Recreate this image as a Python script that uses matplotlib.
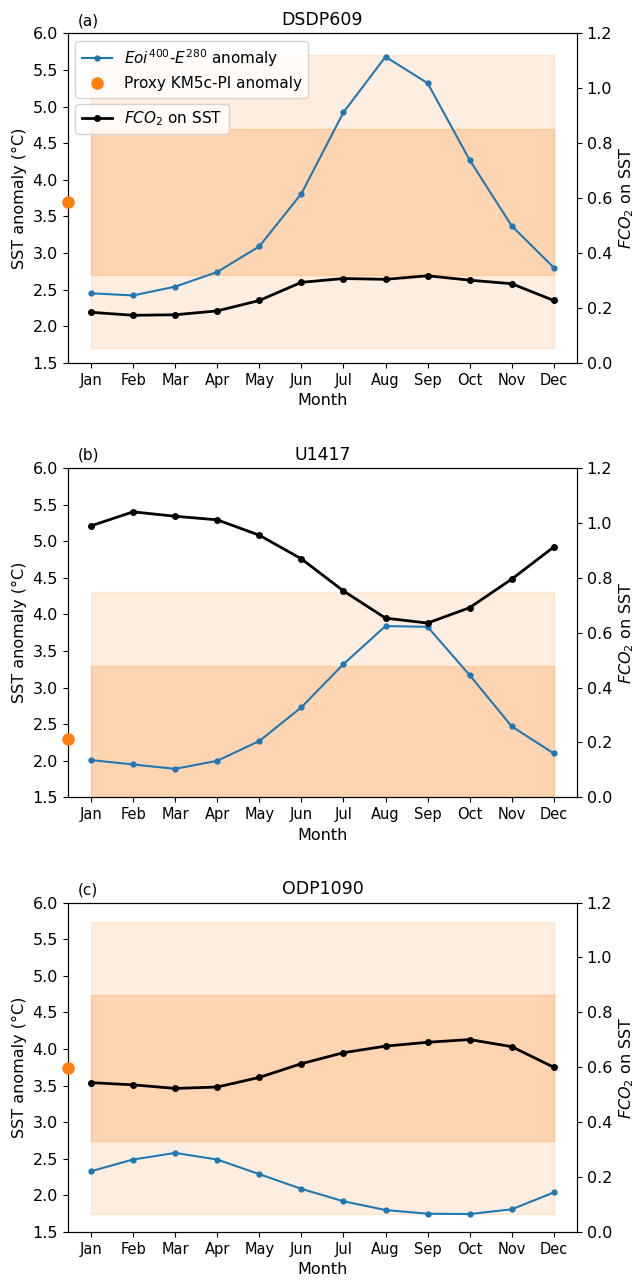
import matplotlib
matplotlib.use("Agg")
import matplotlib.pyplot as plt
import numpy as np

months = ["Jan", "Feb", "Mar", "Apr", "May", "Jun", "Jul", "Aug", "Sep", "Oct", "Nov", "Dec"]
sites = ["DSDP609", "U1417", "ODP1090"]
panel_tags = ["(a)", "(b)", "(c)"]

# model SST anomaly (Eoi400 - E280), degC
sst_dsdp609 = [2.45, 2.42, 2.54, 2.74, 3.09, 3.81, 4.92, 5.68, 5.32, 4.27, 3.37, 2.80]
sst_u1417 = [2.01, 1.95, 1.89, 2.00, 2.27, 2.73, 3.32, 3.84, 3.83, 3.17, 2.47, 2.10]
sst_odp1090 = [2.33, 2.49, 2.58, 2.49, 2.29, 2.09, 1.92, 1.80, 1.75, 1.745, 1.81, 2.04]

# CO2 forcing contribution to SST (right axis)
fco2_dsdp609 = [0.184, 0.173, 0.175, 0.189, 0.227, 0.293, 0.307, 0.304, 0.317, 0.301, 0.288, 0.227]
fco2_u1417 = [0.989, 1.040, 1.024, 1.011, 0.955, 0.869, 0.752, 0.653, 0.635, 0.691, 0.795, 0.912]
fco2_odp1090 = [0.544, 0.536, 0.523, 0.528, 0.563, 0.613, 0.653, 0.677, 0.691, 0.701, 0.675, 0.600]

# proxy KM5c - PI anomaly and its uncertainty (1 and 2 degC)
proxy = [3.70, 2.30, 3.74]
proxy_err = [1.0, 2.0]

sst_all = [sst_dsdp609, sst_u1417, sst_odp1090]
fco2_all = [fco2_dsdp609, fco2_u1417, fco2_odp1090]

fig = plt.figure(figsize=(6.34, 12.82), dpi=100)
tops = [0.974, 0.635, 0.296]
height = 0.257
x = np.arange(1, 13)

for i in range(3):
    ax = fig.add_axes([0.107, tops[i] - height, 0.803, height])
    ax2 = ax.twinx()

    p = proxy[i]
    ax.fill_between(x, p - proxy_err[1], p + proxy_err[1], color="tab:orange", alpha=0.13, lw=1)
    ax.fill_between(x, p - proxy_err[0], p + proxy_err[0], color="tab:orange", alpha=0.22, lw=1)

    l1, = ax.plot(x, sst_all[i], "-o", color="tab:blue", lw=1.5, ms=3.5,
                  label="$Eoi^{400}$-$E^{280}$ anomaly")
    ax.set_xlim(0.45, 12.55)
    ax.set_ylim(1.5, 6.0)
    l2, = ax2.plot([0.45], [(p - 1.5) / 4.5 * 1.2], "o", color="tab:orange", ms=8,
                   clip_on=False, zorder=5, label="Proxy KM5c-PI anomaly")

    l3, = ax2.plot(x, fco2_all[i], "-o", color="black", lw=2, ms=4, label="$FCO_2$ on SST")
    ax2.set_ylim(0, 1.2)
    ax2.set_yticks(np.arange(0, 1.21, 0.2))
    ax2.tick_params(labelsize=11.5)
    ax2.set_ylabel("$FCO_2$ on SST", fontsize=11.5)

    ax.set_xticks(x)
    ax.set_xticklabels(months, fontsize=10.5)
    ax.set_yticks(np.arange(1.5, 6.01, 0.5))
    ax.tick_params(axis="y", labelsize=11.5)
    ax.set_ylabel("SST anomaly (°C)", fontsize=11.5)
    ax.set_xlabel("Month", fontsize=11.5)
    ax.set_title(sites[i], fontsize=12.5)
    ax.text(0.02, 1.015, panel_tags[i], transform=ax.transAxes, fontsize=11, va="bottom")

    if i == 0:
        leg1 = ax2.legend(handles=[l1, l2], loc="upper left", fontsize=11)
        ax2.add_artist(leg1)
        ax2.legend(handles=[l3], loc="upper left", bbox_to_anchor=(0.0, 0.81), fontsize=11)

fig.savefig("out.png", dpi=100)
